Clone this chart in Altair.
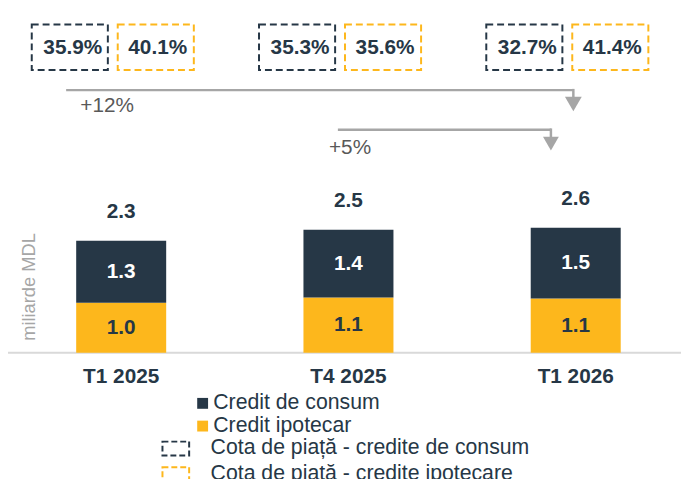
import altair as alt
import pandas as pd

# ---------------- data ----------------
periods = ["T1 2025", "T4 2025", "T1 2026"]
credit_consum = [1.28, 1.40, 1.46]
credit_ipotecar = [1.03, 1.14, 1.12]
cota_consum = [35.9, 35.3, 32.7]
cota_ipotecar = [40.1, 35.6, 41.4]
series_names = ["Credit de consum", "Credit ipotecar"]
cota_names = ["Cota de piață - credite de consum", "Cota de piață - credite ipotecare"]
growth_labels = ["+12%", "+5%"]
growth_from = ["T1 2025", "T4 2025"]
growth_to = ["T1 2026", "T1 2026"]
unit_label = ["miliarde MDL"]

# ---------------- style ----------------
DARK = "#263746"
YELLOW = "#FDB71C"
GRAY = "#A6A6A6"
AXIS = "#D9D9D9"
FONT = "Liberation Sans"
W, H = 681, 471
PX_PER_UNIT = 49.0
BASELINE = 346.0

y_scale = alt.Scale(domain=[-(H - BASELINE) / PX_PER_UNIT, BASELINE / PX_PER_UNIT],
                    nice=False, zero=False)
x_scale = alt.Scale(domain=periods, range=[69, 620], paddingInner=0.604, paddingOuter=0)
X = alt.X("period:N", scale=x_scale, axis=None, title=None)

rows = []
for i, p in enumerate(periods):
    rows.append({"period": p, "series": series_names[1], "value": credit_ipotecar[i], "order": 1})
    rows.append({"period": p, "series": series_names[0], "value": credit_consum[i], "order": 2})
bars_df = pd.DataFrame(rows)

color_legend = alt.Legend(
    orient="none", legendX=181.2, legendY=386.5, title=None,
    symbolType="square", symbolSize=121, symbolStrokeWidth=0, symbolOffset=5,
    labelFont=FONT, labelFontSize=21.5, labelColor=DARK, labelOffset=0, labelLimit=500,
    rowPadding=0, padding=0, direction="vertical",
)

bars = alt.Chart(bars_df).mark_bar().encode(
    x=X,
    y=alt.Y("value:Q", scale=y_scale, axis=None, stack="zero"),
    color=alt.Color("series:N", scale=alt.Scale(domain=series_names, range=[DARK, YELLOW]),
                    title=None, legend=color_legend),
    order=alt.Order("order:Q"),
)

seg = (
    alt.Chart(bars_df)
    .transform_stack(stack="value", groupby=["period"],
                     sort=[alt.SortField("order", order="ascending")], as_=["v0", "v1"])
    .transform_calculate(mid="(datum.v0 + datum.v1) / 2")
    .mark_text(font=FONT, fontSize=21, fontWeight="bold", baseline="middle")
    .encode(
        x=X,
        y=alt.Y("mid:Q", scale=y_scale, axis=None),
        text=alt.Text("value:Q", format=".1f"),
        color=alt.condition(alt.datum.series == series_names[0], alt.value("white"), alt.value(DARK)),
    )
)

tot = (
    alt.Chart(bars_df)
    .transform_aggregate(total="sum(value)", groupby=["period"])
    .mark_text(font=FONT, fontSize=21, fontWeight="bold", color=DARK, dy=-29, baseline="middle")
    .encode(x=X, y=alt.Y("total:Q", scale=y_scale, axis=None),
            text=alt.Text("total:Q", format=".1f"))
)

axis_line = alt.Chart(pd.DataFrame({"v": [0.0]})).mark_rule(color=AXIS, strokeWidth=2).encode(
    x=alt.value(0), x2=alt.value(W), y=alt.Y("v:Q", scale=y_scale, axis=None)
)

xlab = alt.Chart(pd.DataFrame({"period": periods})).mark_text(
    font=FONT, fontSize=21, fontWeight="bold", color=DARK, baseline="middle"
).encode(x=X, y=alt.value(370.3), text="period:N")

# ---------------- market share boxes ----------------
share_df = pd.DataFrame({
    "period": periods * 2,
    "kind": [cota_names[0]] * len(periods) + [cota_names[1]] * len(periods),
    "share": cota_consum + cota_ipotecar,
})
stroke_scale = alt.Scale(domain=cota_names, range=[DARK, YELLOW])
stroke_legend = alt.Legend(
    orient="none", legendX=155.3, legendY=428.5, title=None,
    symbolType="M-1,-0.52H1V0.52H-1Z", symbolSize=729, symbolStrokeWidth=2,
    symbolDash=[6, 3], symbolFillColor="transparent",
    labelFont=FONT, labelFontSize=21.5, labelColor=DARK, labelOffset=20.7, labelLimit=500,
    rowPadding=-9.8, padding=0, direction="vertical",
)


def boxes(kind, box_off, text_off):
    base = alt.Chart(share_df).transform_filter(alt.datum.kind == kind)
    box = base.mark_bar(width=77, xOffset=box_off, fill="transparent", strokeWidth=2,
                        strokeDash=[7, 4]).encode(
        x=X, y=alt.value(14), y2=alt.value(60),
        stroke=alt.Stroke("kind:N", scale=stroke_scale, title=None, legend=stroke_legend),
    )
    txt = base.transform_calculate(lbl="format(datum.share, '.1f') + '%'").mark_text(
        font=FONT, fontSize=21, fontWeight="bold", color=DARK, xOffset=text_off, baseline="middle"
    ).encode(x=X, y=alt.value(37.7), text="lbl:N")
    return [box, txt]


# ---------------- growth arrows ----------------
def growth_arrow(i, off_from, off_to, y_line, y_head, lbl_off, y_lbl, head_size):
    d = pd.DataFrame({"from": [growth_from[i]], "to": [growth_to[i]], "label": [growth_labels[i]]})
    base = alt.Chart(d)
    XF = alt.X("from:N", scale=x_scale, axis=None)
    XT = alt.X("to:N", scale=x_scale, axis=None)
    h = base.mark_rule(color=GRAY, strokeWidth=2.5, xOffset=off_from, x2Offset=off_to).encode(
        x=XF, x2="to:N", y=alt.value(y_line))
    v = base.mark_rule(color=GRAY, strokeWidth=2.5, xOffset=off_to).encode(
        x=XT, y=alt.value(y_line - 1.25), y2=alt.value(y_head - 5))
    head = base.mark_point(shape="triangle-down", filled=True, size=head_size, color=GRAY,
                           opacity=1, xOffset=off_to).encode(x=XT, y=alt.value(y_head))
    t = base.mark_text(font=FONT, fontSize=21, color="#595959", align="left",
                       xOffset=lbl_off, baseline="middle").encode(
        x=XF, y=alt.value(y_lbl), text="label:N")
    return [h, v, head, t]


ylab = alt.Chart(pd.DataFrame({"t": unit_label})).mark_text(
    font=FONT, fontSize=18.5, color=GRAY, angle=270, baseline="middle"
).encode(x=alt.value(21), y=alt.value(279.5), text="t:N")

layers = [axis_line, bars, seg, tot, xlab, ylab]
layers += boxes(cota_names[0], -52, -49)
layers += boxes(cota_names[1], 35, 37)
layers += growth_arrow(0, -55.7, -2.4, 80.3, 94.4, -41.4, 96.0, 289)
layers += growth_arrow(1, -10.7, -25.1, 120.3, 134.5, -19.7, 138.7, 256)

chart = alt.layer(*layers).properties(
    width=W, height=H, padding=0, autosize=alt.AutoSizeParams(type="none"),
    background="white",
).configure_view(stroke=None)

chart.save("out.html", embed_options={"renderer": "svg", "actions": False})
